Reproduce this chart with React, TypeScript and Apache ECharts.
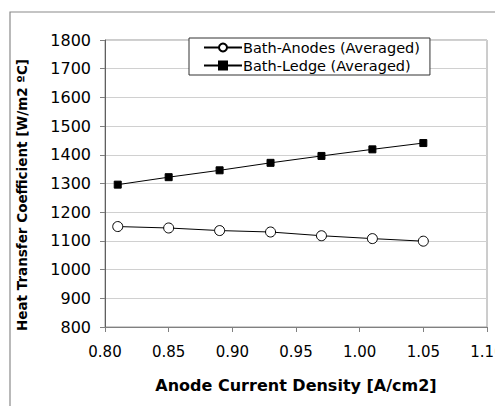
import React, { useEffect, useRef } from "react";
import * as echarts from "echarts";

const currentDensity = [0.81, 0.85, 0.89, 0.93, 0.97, 1.01, 1.05];
const bathAnodes = [1150, 1145, 1136, 1131, 1118, 1108, 1099];
const bathLedge = [1296, 1322, 1346, 1372, 1396, 1419, 1441];
const seriesNames = ["Bath-Anodes (Averaged)", "Bath-Ledge (Averaged)"];
const xAxisTitle = "Anode Current Density [A/cm2]";
const yAxisTitle = "Heat Transfer Coefficient [W/m2 ºC]";

const FONT = "'DejaVu Sans', 'Liberation Sans', Arial, sans-serif";

export default function App() {
  const ref = useRef<HTMLDivElement>(null);
  useEffect(() => {
    if (!ref.current) return;
    const chart = echarts.init(ref.current, undefined, { renderer: "svg" });
    chart.setOption({
      animation: false,
      backgroundColor: "#ffffff",
      textStyle: { fontFamily: FONT },
      graphic: [
        {
          type: "rect",
          shape: { x: 10, y: 12, width: 520, height: 420 },
          style: { fill: "none", stroke: "#8a8a8a", lineWidth: 1.2 },
          silent: true,
          z: 0,
        },
        {
          type: "rect",
          shape: { x: 105, y: 40, width: 382, height: 287 },
          style: { fill: "none", stroke: "#9a9a9a", lineWidth: 1 },
          silent: true,
          z: 0,
        },
        {
          type: "text",
          x: 22,
          y: 195,
          rotation: Math.PI / 2,
          silent: true,
          style: {
            text: yAxisTitle,
            fontSize: 13.5,
            fontWeight: "bold",
            fontFamily: FONT,
            fill: "#000",
            align: "center",
            verticalAlign: "middle",
          },
        },
      ],
      grid: {
        left: 105,
        right: 8,
        top: 40,
        bottom: 79,
        containLabel: false,
        outerBoundsMode: "none",
      },
      legend: {
        left: 189,
        top: 38,
        orient: "vertical",
        backgroundColor: "#ffffff",
        borderColor: "#333333",
        borderWidth: 1,
        borderRadius: 0,
        padding: [2, 10, 2, 14],
        itemWidth: 38,
        itemHeight: 10,
        itemGap: 3,
        textStyle: { fontSize: 14.5, color: "#000", fontFamily: FONT, padding: [0, 0, 0, -4] },
        data: seriesNames,
      },
      xAxis: {
        type: "value",
        min: 0.8,
        max: 1.1,
        interval: 0.05,
        name: xAxisTitle,
        nameLocation: "middle",
        nameGap: 50,
        nameTextStyle: { fontSize: 16, fontWeight: "bold", color: "#000", fontFamily: FONT },
        axisLine: { show: true, lineStyle: { color: "#808080", width: 1 } },
        axisTick: { show: true, inside: false, length: 5, lineStyle: { color: "#808080" } },
        axisLabel: {
          fontSize: 15,
          color: "#000",
          margin: 17,
          hideOverlap: false,
          formatter: (v: number) => v.toFixed(2),
        },
        splitLine: { show: false },
      },
      yAxis: {
        type: "value",
        min: 800,
        max: 1800,
        interval: 100,
        axisLine: { show: true, lineStyle: { color: "#606060", width: 1 } },
        axisTick: { show: true, inside: false, length: 5, lineStyle: { color: "#808080" } },
        axisLabel: { fontSize: 16, color: "#000", margin: 14, formatter: (v: number) => String(v) },
        splitLine: { show: true, lineStyle: { color: "#d0d0d0", width: 1 } },
      },
      series: [
        {
          name: seriesNames[0],
          type: "line",
          data: currentDensity.map((x, i) => [x, bathAnodes[i]]),
          symbol: "circle",
          symbolSize: 10,
          showAllSymbol: true,
          lineStyle: { color: "#000", width: 1 },
          itemStyle: { color: "#ffffff", borderColor: "#000", borderWidth: 1 },
          z: 3,
        },
        {
          name: seriesNames[1],
          type: "line",
          data: currentDensity.map((x, i) => [x, bathLedge[i]]),
          symbol: "rect",
          symbolSize: 7,
          showAllSymbol: true,
          lineStyle: { color: "#000", width: 1 },
          itemStyle: { color: "#000", borderColor: "#000", borderWidth: 1 },
          z: 3,
        },
      ],
    });
    return () => chart.dispose();
  }, []);
  return (
    <div
      ref={ref}
      style={{ position: "fixed", left: 0, top: 0, width: 495, height: 406, background: "#fff" }}
    />
  );
}
